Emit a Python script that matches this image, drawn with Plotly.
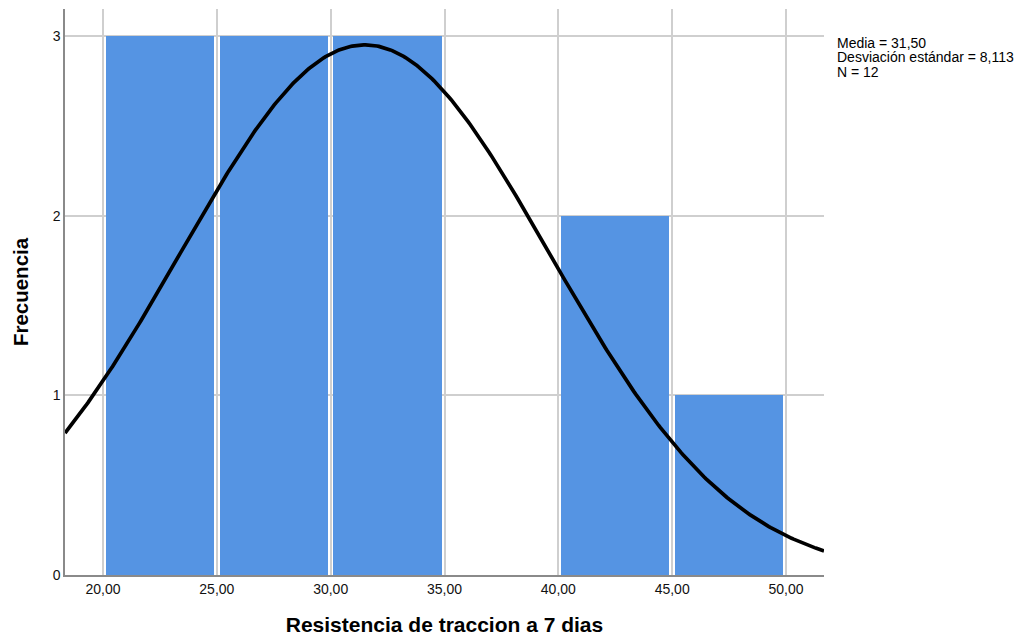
import numpy as np
import plotly.graph_objects as go

# Histogram bins (left edges, width 5) and frequencies
bin_starts = [20, 25, 30, 35, 40, 45]
bin_width = 5
frequencies = [3, 3, 3, 0, 2, 1]

# Summary statistics
mean = 31.50
std_dev = 8.113
n_obs = 12

x_ticks = [20, 25, 30, 35, 40, 45, 50]
x_tick_text = ["20,00", "25,00", "30,00", "35,00", "40,00", "45,00", "50,00"]
y_ticks = [0, 1, 2, 3]

stats_lines = ["Media = 31,50", "Desviación estándar = 8,113", "N = 12"]

x_range = [18.33, 51.67]
y_range = [0, 3.15]

# plot area in pixels
L, R, T, B = 65, 824, 9, 575

centers = [s + bin_width / 2 for s in bin_starts]

# Fitted normal curve scaled to counts
xc = np.linspace(x_range[0], x_range[1], 400)
yc = n_obs * bin_width / (std_dev * np.sqrt(2 * np.pi)) * np.exp(-0.5 * ((xc - mean) / std_dev) ** 2)

fig = go.Figure()
fig.add_trace(go.Bar(
    x=centers, y=frequencies, width=[4.76] * len(centers),
    marker=dict(color="#5594E3", line=dict(width=0)),
    hoverinfo="skip",
))
fig.add_trace(go.Scatter(
    x=xc, y=yc, mode="lines",
    line=dict(color="black", width=3.7),
    hoverinfo="skip",
))

# statistics block to the right of the plot
for i, line in enumerate(stats_lines):
    ypix = 43 + i * 14.5
    fig.add_annotation(
        x=(835 - L) / (R - L), y=1 - (ypix - T) / (B - T),
        xref="paper", yref="paper", showarrow=False,
        text=line, xanchor="left", yanchor="middle", align="left",
        font=dict(family="Liberation Sans, Arial", size=14, color="black"),
    )

fig.update_layout(
    width=1022, height=642,
    margin=dict(l=L, r=1022 - R, t=T, b=642 - B),
    plot_bgcolor="white", paper_bgcolor="white",
    showlegend=False,
    bargap=0,
    font=dict(family="Liberation Sans, Arial", color="black"),
)
fig.update_xaxes(
    range=x_range, tickvals=x_ticks, ticktext=x_tick_text,
    showgrid=True, gridcolor="#cfcfcf", gridwidth=1.5,
    showline=True, linecolor="#8a8a8a", linewidth=1.5,
    ticks="", tickfont=dict(size=14, color="#111"),
    title=dict(text="<b>Resistencia de traccion a 7 dias</b>", font=dict(size=21), standoff=22),
    zeroline=False,
)
fig.update_yaxes(
    range=y_range, tickvals=y_ticks,
    showgrid=True, gridcolor="#cfcfcf", gridwidth=1.5,
    showline=True, linecolor="#8a8a8a", linewidth=1.5,
    ticks="", tickfont=dict(size=14, color="#111"),
    title=dict(text="<b>Frecuencia</b>", font=dict(size=20.5), standoff=18),
    zeroline=False,
)

fig.write_html("out.html")
